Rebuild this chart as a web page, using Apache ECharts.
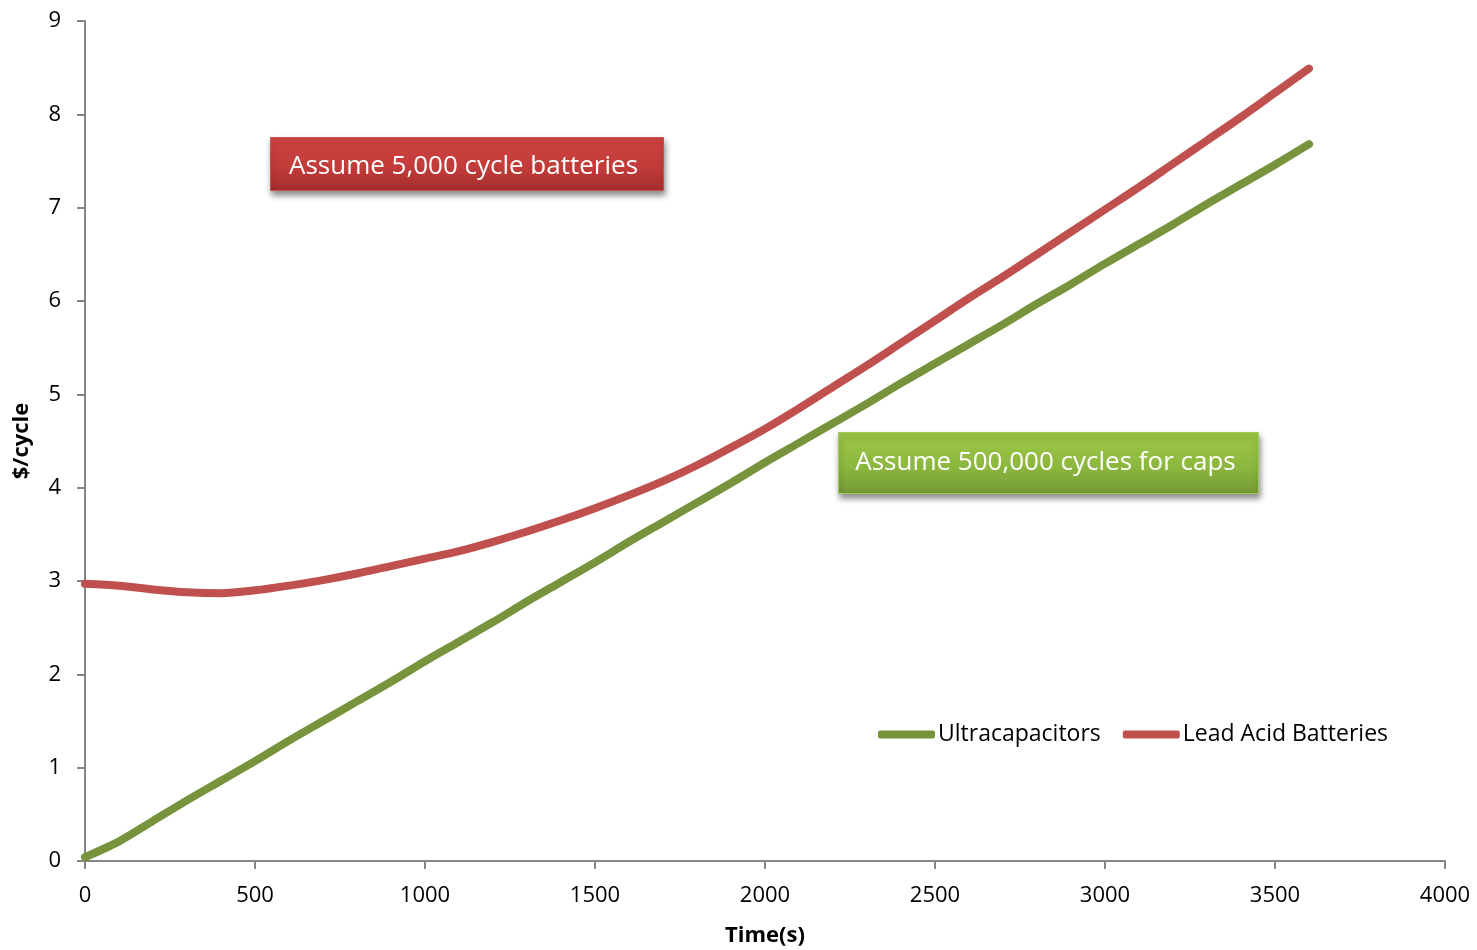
<!DOCTYPE html>
<html>
<head>
<meta charset="utf-8">
<title>$/cycle vs Time</title>
<script src="https://cdn.jsdelivr.net/npm/echarts@6/dist/echarts.min.js"></script>
<style>
  html, body { margin: 0; padding: 0; background: #ffffff; }
  #chart { width: 1477px; height: 950px; }
</style>
</head>
<body>
<div id="chart"></div>
<script>
// Time in seconds
const timeSeconds = [0, 100, 200, 300, 400, 500, 600, 700, 800, 900, 1000, 1100, 1200, 1300, 1400, 1500, 1600, 1700, 1800, 1900, 2000, 2100, 2200, 2300, 2400, 2500, 2600, 2700, 2800, 2900, 3000, 3100, 3200, 3300, 3400, 3500, 3600];

// Cost per cycle, ultracapacitors (500,000 cycles)
const ultracapacitors = [0.04, 0.21, 0.43, 0.65, 0.86, 1.07, 1.29, 1.50, 1.71, 1.92, 2.14, 2.35, 2.56, 2.78, 2.99, 3.20, 3.42, 3.63, 3.84, 4.05, 4.27, 4.48, 4.69, 4.90, 5.12, 5.33, 5.54, 5.75, 5.97, 6.18, 6.40, 6.61, 6.82, 7.04, 7.25, 7.46, 7.68];

// Cost per cycle, lead acid batteries (5,000 cycles)
const leadAcid = [2.97, 2.95, 2.91, 2.88, 2.87, 2.90, 2.95, 3.01, 3.08, 3.16, 3.24, 3.32, 3.42, 3.53, 3.65, 3.78, 3.92, 4.07, 4.24, 4.43, 4.63, 4.85, 5.08, 5.31, 5.55, 5.79, 6.03, 6.26, 6.50, 6.74, 6.98, 7.22, 7.47, 7.72, 7.97, 8.23, 8.49];

const seriesNames = ['Ultracapacitors', 'Lead Acid Batteries'];
const seriesColors = ['#77933C', '#C0504D'];
const noteBatteries = 'Assume 5,000 cycle batteries';
const noteCaps = 'Assume 500,000 cycles for caps';

const FONT = '"Open Sans", "Noto Sans", sans-serif';
const AXIS_GRAY = '#868686';

const pairs = (ys) => timeSeconds.map((t, i) => [t, ys[i]]);

const chart = echarts.init(document.getElementById('chart'), null, { renderer: 'canvas' });

chart.setOption({
  animation: false,
  backgroundColor: '#ffffff',
  grid: { left: 85, right: 32, top: 21, bottom: 89, containLabel: false, outerBoundsMode: 'none' },
  xAxis: {
    type: 'value',
    min: 0, max: 4000, interval: 500,
    name: 'Time(s)',
    nameLocation: 'middle',
    nameGap: 64,
    nameTextStyle: { fontFamily: FONT, fontSize: 22, fontWeight: 'bold', color: '#000' },
    axisLine: { show: true, lineStyle: { color: AXIS_GRAY, width: 2 } },
    axisTick: { show: true, inside: false, length: 8, lineStyle: { color: AXIS_GRAY, width: 2 } },
    axisLabel: { fontFamily: FONT, fontSize: 22, color: '#000', margin: 24, formatter: (v) => String(v) },
    splitLine: { show: false }
  },
  yAxis: {
    type: 'value',
    min: 0, max: 9, interval: 1,
    name: '$/cycle',
    nameLocation: 'middle',
    nameGap: 52,
    nameTextStyle: { fontFamily: FONT, fontSize: 22, fontWeight: 'bold', color: '#000' },
    axisLine: { show: true, lineStyle: { color: AXIS_GRAY, width: 2 } },
    axisTick: { show: true, inside: false, length: 8, lineStyle: { color: AXIS_GRAY, width: 2 } },
    axisLabel: { fontFamily: FONT, fontSize: 22, color: '#000', margin: 24 },
    splitLine: { show: false }
  },
  legend: {
    left: 878,
    top: 723,
    padding: 0,
    icon: 'roundRect',
    itemWidth: 57,
    itemHeight: 8,
    itemGap: 22,
    textStyle: { fontFamily: FONT, fontSize: 23, color: '#000', padding: [0, 0, 0, -2] },
    data: seriesNames
  },
  series: [
    {
      name: seriesNames[0],
      type: 'line',
      data: pairs(ultracapacitors),
      smooth: 0.3,
      showSymbol: false,
      color: seriesColors[0],
      lineStyle: { width: 8, color: seriesColors[0], cap: 'round', join: 'round' },
      itemStyle: { color: seriesColors[0] },
      z: 3
    },
    {
      name: seriesNames[1],
      type: 'line',
      data: pairs(leadAcid),
      smooth: 0.3,
      showSymbol: false,
      color: seriesColors[1],
      lineStyle: { width: 8, color: seriesColors[1], cap: 'round', join: 'round' },
      itemStyle: { color: seriesColors[1] },
      z: 4
    }
  ],
  graphic: [
    {
      type: 'group',
      left: 270,
      top: 137,
      z: 10,
      children: [
        {
          type: 'rect',
          shape: { x: 0, y: 0, width: 393, height: 53 },
          style: {
            fill: new echarts.graphic.LinearGradient(0, 0, 0, 1, [
              { offset: 0, color: '#D04442' },
              { offset: 0.55, color: '#C23C3A' },
              { offset: 1, color: '#A42E2D' }
            ]),
            stroke: '#C9504E',
            lineWidth: 1,
            shadowBlur: 6,
            shadowOffsetX: 1,
            shadowOffsetY: 4,
            shadowColor: 'rgba(0,0,0,0.45)'
          }
        },
        {
          type: 'text',
          style: {
            x: 193, y: 29,
            text: noteBatteries,
            fill: '#ffffff',
            font: '26px ' + FONT,
            align: 'center',
            verticalAlign: 'middle'
          }
        }
      ]
    },
    {
      type: 'group',
      left: 838,
      top: 432,
      z: 10,
      children: [
        {
          type: 'rect',
          shape: { x: 0, y: 0, width: 420, height: 61 },
          style: {
            fill: new echarts.graphic.LinearGradient(0, 0, 0, 1, [
              { offset: 0, color: '#9DC846' },
              { offset: 0.55, color: '#8DB83F' },
              { offset: 1, color: '#739A35' }
            ]),
            stroke: '#A3C95A',
            lineWidth: 1,
            shadowBlur: 6,
            shadowOffsetX: 1,
            shadowOffsetY: 4,
            shadowColor: 'rgba(0,0,0,0.45)'
          }
        },
        {
          type: 'text',
          style: {
            x: 207, y: 30,
            text: noteCaps,
            fill: '#ffffff',
            font: '26px ' + FONT,
            align: 'center',
            verticalAlign: 'middle'
          }
        }
      ]
    }
  ]
});
</script>
</body>
</html>
